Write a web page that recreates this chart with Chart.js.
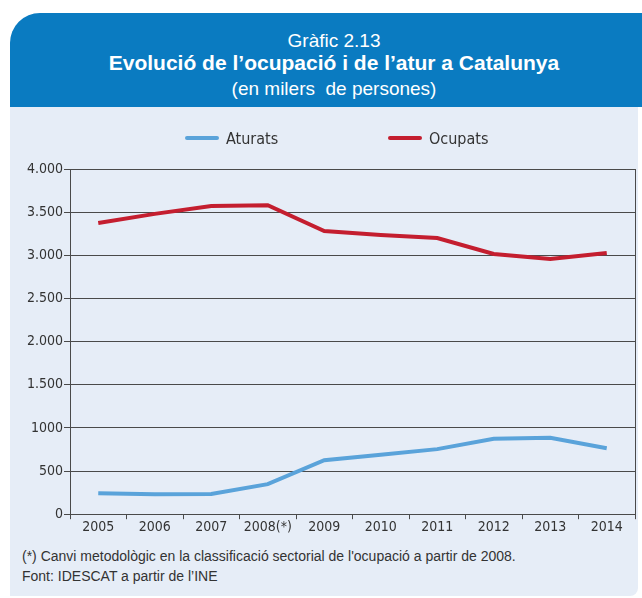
<!DOCTYPE html>
<html>
<head>
<meta charset="utf-8">
<script src="https://cdn.jsdelivr.net/npm/chart.js@4.4.1/dist/chart.umd.min.js"></script>
<style>
  body { margin: 0; background: #fff; width: 642px; height: 598px; overflow: hidden; font-family: "Liberation Sans", Arial, sans-serif; }
  #header {
    position: absolute; left: 10px; top: 13px; width: 632px; height: 94px;
    background: #0a7bc1; border-top-left-radius: 30px; color: #fff; text-align: center;
  }
  #header div { position: absolute; left: 16px; right: 0; }
  #header .t1 { top: 17px; font-size: 19px; }
  #header .t2 { top: 38px; font-size: 21px; font-weight: bold; }
  #header .t3 { top: 65px; font-size: 19px; }
  #panel {
    position: absolute; left: 10px; top: 107px; width: 628px; height: 489px;
    background: #e6edf7; border-bottom-right-radius: 8px;
  }
  #chartBox { position: absolute; left: 0; top: 0; width: 628px; height: 429px; }
  .legend { position: absolute; top: 22px; font-family: "DejaVu Sans Condensed", sans-serif; font-size: 16px; color: #333; }
  .legend span.sw { display: inline-block; width: 34px; height: 4px; border-radius: 2px; vertical-align: middle; margin-right: 7px; position: relative; top: -2px; }
  .note { position: absolute; left: 12px; font-size: 14px; color: #333; }
</style>
</head>
<body>
<div id="header">
  <div class="t1">Gràfic 2.13</div>
  <div class="t2">Evolució de l’ocupació i de l’atur a Catalunya</div>
  <div class="t3">(en milers&nbsp; de persones)</div>
</div>
<div id="panel">
  <div id="chartBox"><canvas id="historyChart"></canvas></div>
  <div class="legend" style="left:175px"><span class="sw" style="background:#5aa3da"></span>Aturats</div>
  <div class="legend" style="left:378px"><span class="sw" style="background:#c41e2f"></span>Ocupats</div>
  <div class="note" style="top:441px">(*) Canvi metodològic en la classificació sectorial de l'ocupació a partir de 2008.</div>
  <div class="note" style="top:461px">Font: IDESCAT a partir de l’INE</div>
</div>
<script>
// Data
const years = ['2005', '2006', '2007', '2008(*)', '2009', '2010', '2011', '2012', '2013', '2014'];
const aturats = [243, 232, 235, 348, 626, 690, 754, 873, 885, 765];
const ocupats = [3374, 3480, 3571, 3580, 3281, 3235, 3200, 3015, 2956, 3026];
const yTickValues = [0, 500, 1000, 1500, 2000, 2500, 3000, 3500, 4000];
const yTickLabels = ['0', '500', '1000', '1.500', '2.000', '2.500', '3.000', '3.500', '4.000'];

const narrow = '"DejaVu Sans Condensed", sans-serif';
const axisColor = '#4a4a4a';

document.addEventListener('DOMContentLoaded', function() {
    const ctx = document.getElementById('historyChart').getContext('2d');
    new Chart(ctx, {
        type: 'line',
        data: {
            labels: years,
            datasets: [{
                label: 'Aturats',
                data: aturats,
                borderColor: '#5aa3da',
                borderWidth: 4,
                pointRadius: 0,
                tension: 0
            }, {
                label: 'Ocupats',
                data: ocupats,
                borderColor: '#c41e2f',
                borderWidth: 4,
                pointRadius: 0,
                tension: 0
            }]
        },
        options: {
            responsive: true,
            maintainAspectRatio: false,
            animation: false,
            layout: { padding: { top: 62, right: 3, left: 0, bottom: 0 } },
            scales: {
                x: {
                    offset: true,
                    grid: { offset: true, drawOnChartArea: false, drawTicks: true, tickLength: 5, color: axisColor },
                    border: { color: axisColor, width: 1 },
                    ticks: { color: '#333', font: { family: narrow, size: 14 }, padding: 0, maxRotation: 0, autoSkip: false }
                },
                y: {
                    min: 0,
                    max: 4000,
                    afterFit: function(axis) { axis.width = 60; },
                    afterBuildTicks: function(axis) {
                        axis.ticks = yTickValues.map(v => ({ value: v }));
                    },
                    grid: { color: axisColor, lineWidth: 1, tickLength: 6 },
                    border: { color: axisColor, width: 1 },
                    ticks: {
                        color: '#333',
                        font: { family: narrow, size: 14 },
                        padding: 1,
                        callback: function(value) {
                            const i = yTickValues.indexOf(value);
                            return i >= 0 ? yTickLabels[i] : '';
                        }
                    }
                },
                yRight: {
                    position: 'right',
                    min: 0,
                    max: 4000,
                    grid: { drawOnChartArea: false, drawTicks: false },
                    border: { color: axisColor, width: 1 },
                    ticks: { display: false }
                }
            },
            plugins: {
                legend: { display: false },
                tooltip: { enabled: false }
            }
        }
    });
});
</script>
</body>
</html>
